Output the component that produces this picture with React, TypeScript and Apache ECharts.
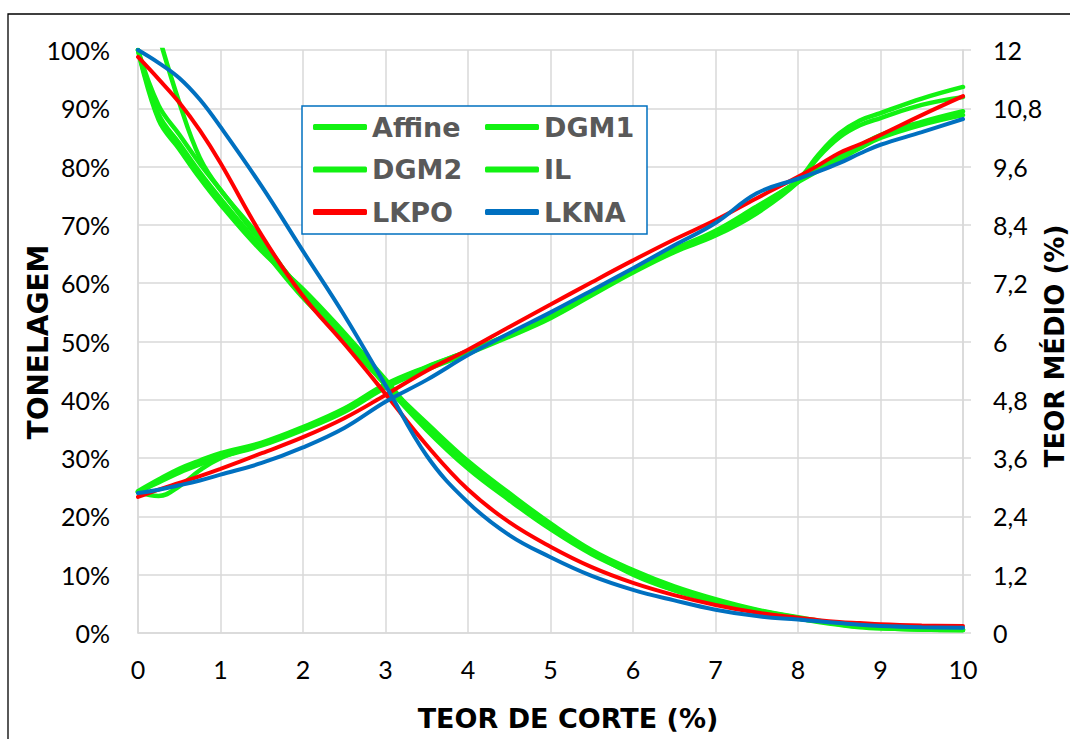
import React, { useEffect, useRef } from "react";
import * as echarts from "echarts";

// Cut-off grade (x axis, %)
const CUT = [0, 0.25, 0.5, 0.75, 1, 1.5, 2, 2.5, 3, 3.5, 4, 4.5, 5, 5.5, 6, 6.5, 7, 7.5, 8, 8.25, 8.5, 8.75, 9, 9.5, 10];

// Tonnage curves (% of total, left axis)
const AFFINE_T = [100, 90.5, 85.5, 80.5, 76, 67, 58.5, 51, 43, 35.5, 29, 23.5, 18.5, 14, 10.5, 7.8, 5.6, 3.9, 2.6, 2.0, 1.5, 1.1, 0.9, 0.6, 0.5];
const DGM1_T = [100, 89, 84, 79, 74.5, 66, 57.5, 50.5, 42.5, 34.8, 28.2, 22.8, 17.8, 13.5, 10.2, 7.4, 5.4, 3.7, 2.5, 1.9, 1.4, 1.0, 0.8, 0.6, 0.5];
const DGM2_T = [100, 88, 83, 78, 73.5, 65.5, 59, 51.5, 43.5, 35, 28.6, 23, 18, 13.8, 10, 7.3, 5.3, 3.6, 2.5, 2.0, 1.6, 1.2, 1.0, 0.7, 0.6];
const IL_T = [115, 102.5, 91, 81.5, 76, 67.5, 58, 50, 42.8, 36, 29.5, 24, 18.8, 14.2, 10.8, 8, 5.8, 4, 2.7, 2.1, 1.6, 1.1, 0.8, 0.6, 0.5];
const LKPO_T = [98.8, 95, 91, 86.2, 80.6, 68.2, 57.8, 49.6, 41, 32.2, 24.6, 19, 14.8, 11.3, 8.6, 6.5, 4.8, 3.5, 2.6, 2.2, 1.9, 1.7, 1.5, 1.3, 1.2];
const LKNA_T = [100, 97.8, 95.2, 91.5, 86.8, 76.6, 65.5, 54.5, 42.5, 30.4, 22.4, 16.8, 13, 9.8, 7.4, 5.6, 4.0, 2.9, 2.3, 2.0, 1.7, 1.4, 1.2, 1.0, 0.9];

// Mean grade curves (%, right axis)
const AFFINE_G = [2.9, 3.12, 3.33, 3.5, 3.64, 3.88, 4.2, 4.58, 5.08, 5.45, 5.78, 6.12, 6.5, 6.97, 7.45, 7.88, 8.25, 8.75, 9.3, 9.56, 9.8, 10.03, 10.25, 10.52, 10.74];
const DGM1_G = [2.92, 3.16, 3.38, 3.55, 3.7, 3.92, 4.24, 4.62, 5.12, 5.48, 5.8, 6.15, 6.55, 7.0, 7.47, 7.87, 8.2, 8.68, 9.32, 9.85, 10.28, 10.55, 10.7, 11.0, 11.24];
const DGM2_G = [2.9, 3.1, 3.3, 3.47, 3.62, 3.86, 4.18, 4.55, 5.05, 5.42, 5.75, 6.1, 6.48, 6.95, 7.42, 7.84, 8.18, 8.64, 9.28, 9.8, 10.2, 10.45, 10.6, 10.87, 11.03];
const IL_G = [2.9, 2.82, 3.02, 3.35, 3.6, 3.9, 4.22, 4.6, 5.1, 5.47, 5.8, 6.14, 6.52, 6.98, 7.46, 7.9, 8.28, 8.78, 9.28, 9.52, 9.75, 9.98, 10.19, 10.46, 10.66];
const LKPO_G = [2.8, 2.95, 3.09, 3.23, 3.38, 3.7, 4.03, 4.42, 4.9, 5.4, 5.83, 6.3, 6.76, 7.22, 7.67, 8.1, 8.5, 8.95, 9.39, 9.63, 9.88, 10.06, 10.25, 10.66, 11.05];
const LKNA_G = [2.88, 2.95, 3.04, 3.14, 3.26, 3.5, 3.82, 4.22, 4.76, 5.21, 5.72, 6.17, 6.6, 7.05, 7.51, 7.98, 8.44, 9.05, 9.35, 9.5, 9.67, 9.87, 10.05, 10.31, 10.58];

const MODELS = ["Affine", "DGM1", "DGM2", "IL", "LKPO", "LKNA"];
const TONNAGE = [AFFINE_T, DGM1_T, DGM2_T, IL_T, LKPO_T, LKNA_T];
const GRADE = [AFFINE_G, DGM1_G, DGM2_G, IL_G, LKPO_G, LKNA_G];
const COLORS = ["#12F212", "#12F212", "#12F212", "#12F212", "#FF0000", "#0070C0"];
const WIDTHS = [4.5, 4.5, 4.5, 4.5, 4, 4];

const X_TICKS = { min: 0, max: 10, interval: 1 };
const Y_LEFT = { min: 0, max: 100, interval: 10 };
const Y_RIGHT = { min: 0, max: 12, interval: 1.2 };

const TICK_FONT = "Lato";
const TITLE_FONT = "DejaVu Sans";

export default function App() {
  const ref = useRef<HTMLDivElement>(null);
  useEffect(() => {
    if (!ref.current) return;
    const chart = echarts.init(ref.current, null, { renderer: "svg" });
    const series: any[] = [];
    MODELS.forEach((name, m) => {
      [TONNAGE[m], GRADE[m]].forEach((arr, k) => {
        series.push({
          name,
          type: "line",
          yAxisIndex: k,
          smooth: 0.4,
          symbol: "none",
          clip: true,
          z: 2 + m,
          lineStyle: { color: COLORS[m], width: WIDTHS[m], cap: "round" },
          itemStyle: { color: COLORS[m] },
          data: CUT.map((x, i) => [x, arr[i]]),
        });
      });
    });
    const legendText = {
      fontFamily: TITLE_FONT,
      fontWeight: "bold",
      fontSize: 27,
      color: "#595959",
      lineHeight: 30,
    };
    const legendBase = {
      orient: "vertical",
      top: 112,
      padding: 0,
      itemGap: 12.5,
      itemWidth: 54,
      itemHeight: 6,
      icon: "roundRect",
      z: 60,
      textStyle: legendText,
    };
    const gridLine = { lineStyle: { color: "#D9D9D9", width: 1.5 } };
    const tickLabel = { color: "#000", fontFamily: TICK_FONT, fontSize: 25 };
    chart.setOption({
      animation: false,
      grid: { left: 138, right: 107, top: 50, bottom: 106, containLabel: false },
      xAxis: {
        type: "value",
        ...X_TICKS,
        axisLine: { show: true, lineStyle: { color: "#D9D9D9", width: 1.5 } },
        axisTick: { show: false },
        splitLine: { show: true, ...gridLine },
        axisLabel: { ...tickLabel, margin: 23 },
      },
      yAxis: [
        {
          type: "value",
          ...Y_LEFT,
          axisLine: { show: true, lineStyle: { color: "#D9D9D9", width: 1.5 } },
          axisTick: { show: false },
          splitLine: { show: true, ...gridLine },
          axisLabel: { ...tickLabel, margin: 28, formatter: "{value}%" },
        },
        {
          type: "value",
          position: "right",
          ...Y_RIGHT,
          axisLine: { show: true, lineStyle: { color: "#D9D9D9", width: 1.5 } },
          axisTick: { show: true, length: 8, lineStyle: { color: "#D9D9D9", width: 1.5 } },
          splitLine: { show: false },
          axisLabel: {
            ...tickLabel,
            margin: 30,
            formatter: (v: number) => String(Math.round(v * 10) / 10).replace(".", ","),
          },
        },
      ],
      legend: [
        { ...legendBase, left: 313, data: ["Affine", "DGM2", "LKPO"] },
        { ...legendBase, left: 485, data: ["DGM1", "IL", "LKNA"] },
      ],
      graphic: [
        {
          type: "rect",
          z: -10,
          silent: true,
          shape: { x: 8, y: 14, width: 1100, height: 800 },
          style: { fill: "none", stroke: "#000", lineWidth: 1.3 },
        },
        {
          type: "rect",
          z: 50,
          silent: true,
          shape: { x: 302, y: 106, width: 345, height: 128 },
          style: { fill: "#fff", stroke: "#0070C0", lineWidth: 1.5 },
        },
        {
          type: "text",
          x: 38,
          y: 342,
          rotation: Math.PI / 2,
          style: {
            text: "TONELAGEM",
            fontFamily: TITLE_FONT,
            fontWeight: "bold",
            fontSize: 28,
            fill: "#000",
            align: "center",
            verticalAlign: "middle",
          },
        },
        {
          type: "text",
          x: 1055,
          y: 346,
          rotation: Math.PI / 2,
          style: {
            text: "TEOR MÉDIO (%)",
            fontFamily: TITLE_FONT,
            fontWeight: "bold",
            fontSize: 26,
            fill: "#000",
            align: "center",
            verticalAlign: "middle",
          },
        },
        {
          type: "text",
          x: 568,
          y: 718,
          style: {
            text: "TEOR DE CORTE (%)",
            fontFamily: TITLE_FONT,
            fontWeight: "bold",
            fontSize: 27,
            fill: "#000",
            align: "center",
            verticalAlign: "middle",
          },
        },
      ],
      series,
    });
    return () => chart.dispose();
  }, []);
  return (
    <div
      ref={ref}
      style={{ position: "absolute", left: 0, top: 0, width: 1070, height: 739, background: "#fff" }}
    />
  );
}
